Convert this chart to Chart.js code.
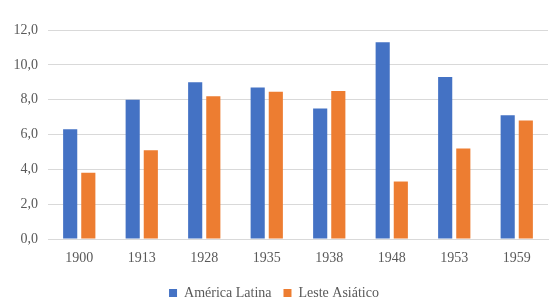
<!DOCTYPE html>
<html><head><meta charset="utf-8">
<script src="https://cdn.jsdelivr.net/npm/chart.js@4/dist/chart.umd.min.js"></script>
<style>html,body{margin:0;padding:0;background:#fff}#wrap{width:554px;height:305px}</style>
</head><body><div id="wrap"><canvas id="c" width="554" height="305"></canvas></div>
<script>
const categories = ["1900","1913","1928","1935","1938","1948","1953","1959"];
const americaLatina = [6.3, 8.0, 9.0, 8.7, 7.5, 11.3, 9.3, 7.1];
const lesteAsiatico = [3.8, 5.1, 8.2, 8.45, 8.5, 3.3, 5.2, 6.8];
const seriesNames = ["América Latina", "Leste Asiático"];
const yTicks = [0, 2, 4, 6, 8, 10, 12];

const font = {family: "'Liberation Serif', 'DejaVu Serif', serif", size: 14};
const legendHeightFix = {
  id: 'legendHeightFix',
  afterInit(chart) {
    const lg = chart.legend;
    if (!lg) return;
    const orig = lg.fit.bind(lg);
    lg.fit = function () { orig(); this.height = 31; };
  }
};
new Chart(document.getElementById('c'), {
  type: 'bar',
  data: {
    labels: categories,
    datasets: [
      {label: seriesNames[0], data: americaLatina, backgroundColor: '#4472C4', categoryPercentage: 0.58, barPercentage: 0.78},
      {label: seriesNames[1], data: lesteAsiatico, backgroundColor: '#ED7D31', categoryPercentage: 0.58, barPercentage: 0.78}
    ]
  },
  plugins: [legendHeightFix],
  options: {
    responsive: false,
    animation: false,
    layout: {padding: {top: 30, right: 6, left: 0, bottom: 0}},
    plugins: {
      legend: {
        position: 'bottom',
        labels: {boxWidth: 8, boxHeight: 8, color: '#595959', font: font, padding: 12}
      },
      tooltip: {enabled: false}
    },
    scales: {
      x: {
        afterFit: a => { a.height = 35; },
        grid: {display: false, drawTicks: false},
        border: {color: '#d9d9d9'},
        ticks: {color: '#595959', font: font, padding: 11}
      },
      y: {
        min: 0, max: 12,
        afterBuildTicks: a => { a.ticks = yTicks.map(v => ({value: v})); },
        afterFit: a => { a.width = 48; },
        grid: {color: '#d9d9d9', drawTicks: false},
        border: {display: false},
        ticks: {color: '#595959', font: font, padding: 10,
          callback: v => v.toFixed(1).replace('.', ',')}
      }
    }
  }
});
</script></body></html>
